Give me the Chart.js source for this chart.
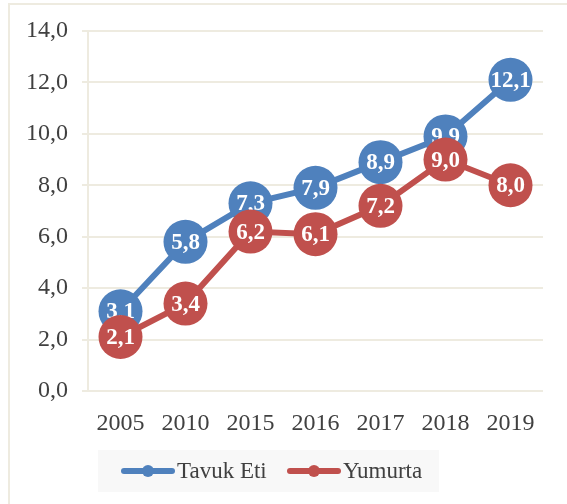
<!DOCTYPE html>
<html>
<head>
<meta charset="utf-8">
<script src="https://cdn.jsdelivr.net/npm/chart.js@4"></script>
<style>
  body { margin: 0; background: #fff; }
</style>
</head>
<body>
<canvas id="chart" width="567" height="504"></canvas>
<script>
const years = ['2005', '2010', '2015', '2016', '2017', '2018', '2019'];
const tavukEti = [3.1, 5.8, 7.3, 7.9, 8.9, 9.9, 12.1];
const yumurta = [2.1, 3.4, 6.2, 6.1, 7.2, 9.0, 8.0];
const seriesNames = ['Tavuk Eti', 'Yumurta'];

const BLUE = '#4F81BD';
const RED = '#C0504D';
const GRID = '#EEEBE0';
const TEXT = '#404040';
const SERIF = '"Liberation Serif", "Times New Roman", serif';

const fmt = v => v.toFixed(1).replace('.', ',');

// values in white on top of each circle, drawn right after its own dataset
const labelsPlugin = {
  id: 'pointLabels',
  afterDatasetDraw(chart, args) {
    const ctx = chart.ctx;
    const ds = chart.data.datasets[args.index];
    ctx.save();
    ctx.fillStyle = '#fff';
    ctx.font = 'bold 23px ' + SERIF;
    ctx.textAlign = 'center';
    ctx.textBaseline = 'middle';
    args.meta.data.forEach((pt, i) => {
      ctx.fillText(fmt(ds.data[i]), pt.x, pt.y + 1);
    });
    ctx.restore();
  }
};

// outer frame + legend box
const framePlugin = {
  id: 'frame',
  beforeDraw(chart) {
    const ctx = chart.ctx;
    ctx.save();
    ctx.strokeStyle = GRID;
    ctx.lineWidth = 2;
    ctx.beginPath();
    ctx.moveTo(9, 600);
    ctx.lineTo(9, 4);
    ctx.lineTo(600, 4);
    ctx.stroke();
    ctx.restore();
  },
  afterDraw(chart) {
    const ctx = chart.ctx;
    ctx.save();
    ctx.fillStyle = '#F8F8F8';
    ctx.fillRect(98, 450, 341, 42);
    const items = [
      { x: 122, color: BLUE, text: seriesNames[0] },
      { x: 288, color: RED, text: seriesNames[1] }
    ];
    const y = 471;
    ctx.font = '23px ' + SERIF;
    ctx.textBaseline = 'middle';
    items.forEach(it => {
      ctx.strokeStyle = it.color;
      ctx.lineWidth = 6;
      ctx.lineCap = 'round';
      ctx.beginPath();
      ctx.moveTo(it.x + 2, y);
      ctx.lineTo(it.x + 50, y);
      ctx.stroke();
      ctx.fillStyle = it.color;
      ctx.beginPath();
      ctx.arc(it.x + 26, y, 6, 0, Math.PI * 2);
      ctx.fill();
      ctx.fillStyle = TEXT;
      ctx.fillText(it.text, it.x + 55, y + 1);
    });
    ctx.restore();
  }
};

new Chart(document.getElementById('chart'), {
  type: 'line',
  data: {
    labels: years,
    datasets: [
      {
        label: seriesNames[0],
        data: tavukEti,
        borderColor: BLUE,
        backgroundColor: BLUE,
        pointBackgroundColor: BLUE,
        borderWidth: 6,
        pointRadius: 22,
        pointBorderWidth: 0,
        order: 1
      },
      {
        label: seriesNames[1],
        data: yumurta,
        borderColor: RED,
        backgroundColor: RED,
        pointBackgroundColor: RED,
        borderWidth: 6,
        pointRadius: 22,
        pointBorderWidth: 0,
        order: 0
      }
    ]
  },
  options: {
    responsive: false,
    animation: false,
    layout: { padding: { top: 31, right: 24, bottom: 63, left: 0 } },
    plugins: {
      legend: { display: false },
      tooltip: { enabled: false }
    },
    scales: {
      x: {
        offset: true,
        grid: { display: false },
        border: { display: false },
        ticks: {
          color: TEXT,
          font: { family: SERIF, size: 24 },
          padding: 10,
          maxRotation: 0
        },
        afterFit: s => { s.height = 50; }
      },
      y: {
        min: 0,
        max: 14,
        ticks: {
          stepSize: 2,
          color: TEXT,
          font: { family: SERIF, size: 24 },
          padding: 14,
          callback: v => fmt(v)
        },
        grid: { color: GRID, lineWidth: 2, tickLength: 6 },
        border: { color: GRID, width: 2 },
        afterFit: s => { s.width = 88; }
      }
    }
  },
  plugins: [labelsPlugin, framePlugin]
});
</script>
</body>
</html>
